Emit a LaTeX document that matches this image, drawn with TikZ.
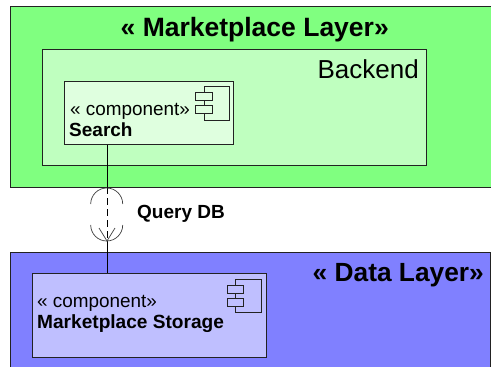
\documentclass[tikz,border=0pt]{standalone}
\usepackage{fontspec}
\setmainfont{Liberation Sans}
\definecolor{lgreen}{HTML}{80FF80}
\definecolor{mgreen}{HTML}{BFFFBF}
\definecolor{pgreen}{HTML}{DFFFDF}
\definecolor{lblue}{HTML}{8080FF}
\definecolor{pblue}{HTML}{BFBFFF}
\definecolor{edge}{HTML}{222222}
\tikzset{
 boxline/.style={draw=edge,line width=0.9pt},
 lbl/.style={inner sep=0pt,anchor=base west,text=black},
 conn/.style={draw=black,line width=0.8pt},
 thin arc/.style={draw=black!75,line width=0.7pt},
 iconbox/.style={draw=edge,line width=0.8pt}
}
\begin{document}
\begin{tikzpicture}[x=1pt,y=-1pt]
\useasboundingbox (0,0) rectangle (491,367);
\fill[white] (0,0) rectangle (491,367);
\begin{scope}
\clip (0,0) rectangle (491,367);
\draw[boxline,fill=lgreen] (10,6) rectangle (496,187);
\draw[boxline,fill=lblue] (10,252) rectangle (490,372);
\end{scope}
\node[draw=edge,line width=0.9pt,fill=mgreen,minimum width=384pt,minimum height=116pt,inner sep=0pt,anchor=north west] (backend) at (42,49) {};
\node[draw=edge,line width=0.9pt,fill=pgreen,minimum width=169pt,minimum height=63pt,inner sep=0pt,anchor=north west] (search) at (64,81) {};
\node[draw=edge,line width=0.9pt,fill=pblue,minimum width=234pt,minimum height=84pt,inner sep=0pt,anchor=north west] (storage) at (32,273) {};
\coordinate (top) at (107,187);
\coordinate (bot) at (107,241);
\draw[conn] (search.south -| top) -- (top);
\draw[conn] (bot) -- (storage.north -| bot);
\draw[conn,dashed,dash pattern=on 7pt off 4pt] (top) -- (bot);
\draw[thin arc] (90.7,204) arc[start angle=180,end angle=360,radius=16];
\draw[thin arc] (90.7,225) arc[start angle=180,end angle=0,radius=16];
\draw[thin arc] (99,228) -- (bot) -- (115,228);
\node[lbl,font=\fontsize{26.5}{30}\selectfont\bfseries] (t1) at (120.5,36) {« Marketplace Layer»};
\node[lbl,font=\fontsize{26}{30}\selectfont,anchor=base east] (t2) at (419,78) {Backend};
\node[lbl,font=\fontsize{26.3}{30}\selectfont\bfseries,anchor=base east] (t3) at (484,281) {« Data Layer»};
\node[lbl,font=\fontsize{18.9}{22}\selectfont] (t4) at (70,115) {« component»};
\node[lbl,font=\fontsize{19}{22}\selectfont\bfseries] (t5) at (69,136) {Search};
\node[lbl,font=\fontsize{18.9}{22}\selectfont] (t6) at (37,307) {« component»};
\node[lbl,font=\fontsize{19.1}{22}\selectfont\bfseries] (t7) at (37,328) {Marketplace Storage};
\node[lbl,font=\fontsize{19}{22}\selectfont\bfseries] (t8) at (137,218) {Query DB};
% icons
\draw[iconbox] (204,86) rectangle (229,120);
\draw[iconbox,fill=pgreen] (195,92) rectangle (212,100);
\draw[iconbox,fill=pgreen] (195,105) rectangle (212,113);
\draw[iconbox] (235,279) rectangle (261,312);
\draw[iconbox,fill=pblue] (227,285) rectangle (243,293);
\draw[iconbox,fill=pblue] (227,298) rectangle (243,306);
\end{tikzpicture}
\end{document}
